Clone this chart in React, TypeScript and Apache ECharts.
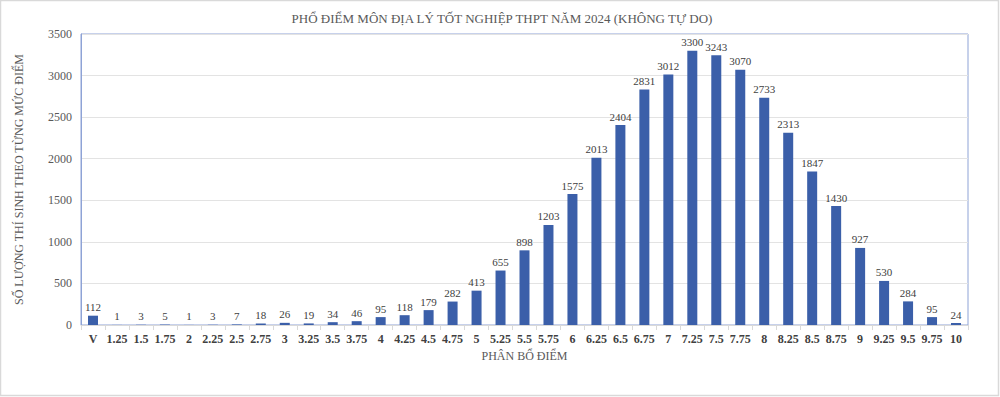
import React, { useEffect, useRef } from "react";
import * as echarts from "echarts";

const categories = ["V","1.25","1.5","1.75","2","2.25","2.5","2.75","3","3.25","3.5","3.75","4","4.25","4.5","4.75","5","5.25","5.5","5.75","6","6.25","6.5","6.75","7","7.25","7.5","7.75","8","8.25","8.5","8.75","9","9.25","9.5","9.75","10"];
const counts = [112,1,3,5,1,3,7,18,26,19,34,46,95,118,179,282,413,655,898,1203,1575,2013,2404,2831,3012,3300,3243,3070,2733,2313,1847,1430,927,530,284,95,24];

const title = "PHỔ ĐIỂM MÔN ĐỊA LÝ TỐT NGHIỆP THPT NĂM 2024 (KHÔNG TỰ DO)";
const xName = "PHÂN BỔ ĐIỂM";
const yName = "SỐ LƯỢNG THÍ SINH THEO TỪNG MỨC ĐIỂM";

const FONT = "Liberation Serif";

export default function App() {
  const ref = useRef<HTMLDivElement>(null);
  useEffect(() => {
    document.body.style.margin = "0";
    const chart = echarts.init(ref.current!, null, { renderer: "svg" });
    chart.setOption({
      animation: false,
      backgroundColor: "#ffffff",
      textStyle: { fontFamily: FONT },
      title: {
        text: title,
        left: 497,
        textAlign: "center",
        top: 7,
        textStyle: { fontFamily: FONT, fontSize: 13, fontWeight: "normal", color: "#595959" },
      },
      grid: {
        left: 81, right: 32, top: 34, bottom: 72,
        show: true, borderColor: "#8ea3d6", borderWidth: 1, backgroundColor: "transparent",
      },
      xAxis: {
        type: "category",
        data: categories,
        name: xName,
        nameLocation: "middle",
        nameGap: 23,
        nameTextStyle: { fontFamily: FONT, fontSize: 12, color: "#595959" },
        axisLine: { lineStyle: { color: "#d9d9d9" } },
        axisTick: { show: true, length: 5, lineStyle: { color: "#d9d9d9" } },
        axisLabel: { fontFamily: FONT, fontSize: 12, fontWeight: "bold", color: "#404040", margin: 8, interval: 0 },
      },
      yAxis: {
        type: "value",
        min: 0, max: 3500, interval: 500,
        name: yName,
        nameLocation: "middle",
        nameGap: 56,
        nameTextStyle: { fontFamily: FONT, fontSize: 12, color: "#595959" },
        axisLine: { show: true, lineStyle: { color: "#8ea3d6" } },
        axisTick: { show: false },
        axisLabel: { fontFamily: FONT, fontSize: 12, color: "#595959", margin: 9, formatter: (v: number) => String(v) },
        splitLine: { lineStyle: { color: "#e3e3e3" } },
      },
      series: [{
        type: "bar",
        data: counts,
        barWidth: 10,
        itemStyle: { color: "#3b5fa9" },
        label: {
          show: true, position: "top", distance: 3,
          fontFamily: FONT, fontSize: 11, color: "#404040",
        },
      }],
      graphic: [{
        type: "rect",
        shape: { x: 0.5, y: 0.5, width: 998, height: 395 },
        style: { fill: "none", stroke: "#d9d9d9", lineWidth: 1.5 },
        silent: true,
      }],
    });
    return () => chart.dispose();
  }, []);
  return <div ref={ref} style={{ width: 1000, height: 397 }} />;
}
